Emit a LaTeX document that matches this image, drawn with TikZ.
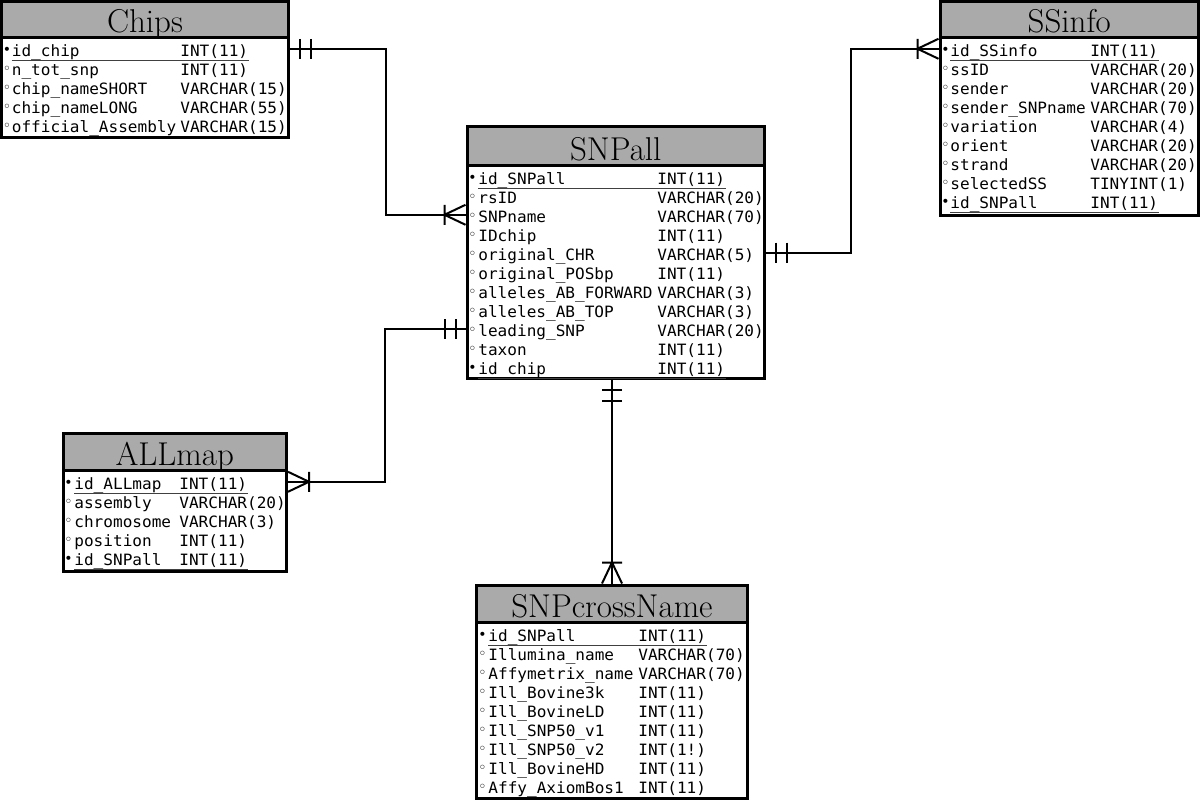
\documentclass[tikz,border=0pt]{standalone}
\usepackage{fontspec}
\usetikzlibrary{fit}
\newfontfamily\fieldfont[FakeStretch=1.03]{DejaVu Sans Mono}
\newfontfamily\dotfont{DejaVu Sans}
\definecolor{hdrgray}{RGB}{170,170,170}

\def\keyrowdot{•}
\def\plainrowdot{◦}

\begin{document}
\begin{tikzpicture}[x=0.5pt, y=-0.5pt,
    tabbox/.style={draw, line width=1.5pt, inner sep=0pt, fill=white},
    tabhead/.style={draw, line width=1.5pt, inner sep=0pt, fill=hdrgray},
    tabtitle/.style={font=\fontsize{16.5}{19}\selectfont, inner sep=0pt,
                     anchor=base, yshift=3pt},
    fieldrow/.style={font={\fieldfont\fontsize{7.8}{9}\selectfont},
                     inner sep=0pt, text depth=2.1pt, anchor=base west},
    bulletdot/.style={font={\dotfont\fontsize{7}{7}\selectfont},
                      inner sep=0pt, anchor=base west, yshift=0.8pt},
    keyrow/.style={append after command={
        (\tikzlastnode.south west) edge[uline] (\tikzlastnode.south east)}},
    plainrow/.style={},
    uline/.style={draw=black!75, line width=0.7pt},
    rel/.style={line width=1pt},
    pics/onebars/.style={code={
        \draw[rel] (10,-10) -- (10,10) (21,-10) -- (21,10);}},
    pics/crowfoot/.style={code={
        \draw[rel] (21,-10) -- (21,10) (0,-10) -- (21,0) -- (0,10);}},
]
\useasboundingbox (0,0) rectangle (1200,799);

% --- Tabla Chips ---
\node[tabbox, fit={(1.5,1.5) (288.5,137.5)}] (chips) {};
\node[tabhead, fit={(1.5,1.5) (288.5,37.3)}] (chips-h) {};
\node[tabtitle] (chips-t) at (chips-h.south) {Chips};
\foreach \kind/\fname/\ftype [count=\i] in {
    keyrow/id\_chip/INT(11),
    plainrow/n\_tot\_snp/INT(11),
    plainrow/chip\_nameSHORT/VARCHAR(15),
    plainrow/chip\_nameLONG/VARCHAR(55),
    plainrow/official\_Assembly/VARCHAR(15)}{
  \node[bulletdot] (chips-d\i) at (2.5, {37+19*\i}) {\csname\kind dot\endcsname};
  \node[fieldrow, \kind] (chips-\i) at (11.5, {37+19*\i})
       {\makebox[84.25pt][l]{\fname}\ftype};
}

% --- Tabla SSinfo ---
\node[tabbox, fit={(940,1.5) (1198.5,215)}] (ssinfo) {};
\node[tabhead, fit={(940,1.5) (1198.5,37.3)}] (ssinfo-h) {};
\node[tabtitle] (ssinfo-t) at (ssinfo-h.south) {SSinfo};
\foreach \kind/\fname/\ftype [count=\i] in {
    keyrow/id\_SSinfo/INT(11),
    plainrow/ssID/VARCHAR(20),
    plainrow/sender/VARCHAR(20),
    plainrow/sender\_SNPname/VARCHAR(70),
    plainrow/variation/VARCHAR(4),
    plainrow/orient/VARCHAR(20),
    plainrow/strand/VARCHAR(20),
    plainrow/selectedSS/TINYINT(1),
    keyrow/id\_SNPall/INT(11)}{
  \node[bulletdot] (ssinfo-d\i) at (941, {37+19*\i}) {\csname\kind dot\endcsname};
  \node[fieldrow, \kind] (ssinfo-\i) at (950, {37+19*\i})
       {\makebox[70pt][l]{\fname}\ftype};
}

% --- Tabla SNPall ---
\node[tabbox, fit={(467,126.5) (764.5,378.5)}] (snpall) {};
\node[tabhead, fit={(467,126.5) (764.5,165)}] (snpall-h) {};
\node[tabtitle] (snpall-t) at (snpall-h.south) {SNPall};
\foreach \kind/\fname/\ftype [count=\i] in {
    keyrow/id\_SNPall/INT(11),
    plainrow/rsID/VARCHAR(20),
    plainrow/SNPname/VARCHAR(70),
    plainrow/IDchip/INT(11),
    plainrow/original\_CHR/VARCHAR(5),
    plainrow/original\_POSbp/INT(11),
    plainrow/alleles\_AB\_FORWARD/VARCHAR(3),
    plainrow/alleles\_AB\_TOP/VARCHAR(3),
    plainrow/leading\_SNP/VARCHAR(20),
    plainrow/taxon/INT(11),
    keyrow/id\_chip/INT(11)}{
  \node[bulletdot] (snpall-d\i) at (468, {165+19*\i}) {\csname\kind dot\endcsname};
  \node[fieldrow, \kind] (snpall-\i) at (478, {165+19*\i})
       {\makebox[89.5pt][l]{\fname}\ftype};
}

% --- Tabla ALLmap ---
\node[tabbox, fit={(63,433.5) (286.5,571)}] (allmap) {};
\node[tabhead, fit={(63,433.5) (286.5,470)}] (allmap-h) {};
\node[tabtitle] (allmap-t) at (allmap-h.south) {ALLmap};
\foreach \kind/\fname/\ftype [count=\i] in {
    keyrow/id\_ALLmap/INT(11),
    plainrow/assembly/VARCHAR(20),
    plainrow/chromosome/VARCHAR(3),
    plainrow/position/INT(11),
    keyrow/id\_SNPall/INT(11)}{
  \node[bulletdot] (allmap-d\i) at (64, {470+19*\i}) {\csname\kind dot\endcsname};
  \node[fieldrow, \kind] (allmap-\i) at (74, {470+19*\i})
       {\makebox[52.5pt][l]{\fname}\ftype};
}

% --- Tabla SNPcrossName ---
\node[tabbox, fit={(476.5,585) (747.5,798)}] (snpx) {};
\node[tabhead, fit={(476.5,585) (747.5,622)}] (snpx-h) {};
\node[tabtitle] (snpx-t) at (snpx-h.south) {SNPcrossName};
\foreach \kind/\fname/\ftype [count=\i] in {
    keyrow/id\_SNPall/INT(11),
    plainrow/Illumina\_name/VARCHAR(70),
    plainrow/Affymetrix\_name/VARCHAR(70),
    plainrow/Ill\_Bovine3k/INT(11),
    plainrow/Ill\_BovineLD/INT(11),
    plainrow/Ill\_SNP50\_v1/INT(11),
    plainrow/Ill\_SNP50\_v2/INT(1!),
    plainrow/Ill\_BovineHD/INT(11),
    plainrow/Affy\_AxiomBos1/INT(11)}{
  \node[bulletdot] (snpx-d\i) at (478, {622+19*\i}) {\csname\kind dot\endcsname};
  \node[fieldrow, \kind] (snpx-\i) at (488, {622+19*\i})
       {\makebox[75pt][l]{\fname}\ftype};
}

% --- Relacion Chips -> SNPall ---
\coordinate (chips-out) at ([yshift=1.7pt]chips.east |- chips-1);
\coordinate (snp-in)    at ([yshift=1.7pt]snpall.west |- snpall-3);
\coordinate (bend-chips) at (386,0);
\draw[rel] (chips-out) -| (bend-chips |- snp-in) -- (snp-in);
\pic at (chips-out) {onebars};
\pic[rotate=180] at (snp-in) {crowfoot};

% --- Relacion SNPall -> SSinfo ---
\coordinate (snp-out) at ([yshift=1.7pt]snpall.east |- snpall-5);
\coordinate (ss-in)   at ([yshift=1.7pt]ssinfo.west |- ssinfo-1);
\coordinate (bend-ss) at (851,0);
\draw[rel] (snp-out) -| (bend-ss |- ss-in) -- (ss-in);
\pic at (snp-out) {onebars};
\pic[rotate=180] at (ss-in) {crowfoot};

% --- Relacion SNPall -> ALLmap ---
\coordinate (snp-left) at ([yshift=1.7pt]snpall.west |- snpall-9);
\coordinate (all-in)   at ([yshift=1.7pt]allmap.east |- allmap-1);
\coordinate (bend-all) at (385,0);
\draw[rel] (snp-left) -| (bend-all |- all-in) -- (all-in);
\pic[rotate=180] at (snp-left) {onebars};
\pic at (all-in) {crowfoot};

% --- Relacion SNPall -> SNPcrossName ---
\coordinate (snp-down) at (snpx.north |- snpall.south);
\draw[rel] (snp-down) -- (snpx.north);
\pic[rotate=-90] at (snp-down) {onebars};
\pic[rotate=90] at (snpx.north) {crowfoot};

\end{tikzpicture}
\end{document}
